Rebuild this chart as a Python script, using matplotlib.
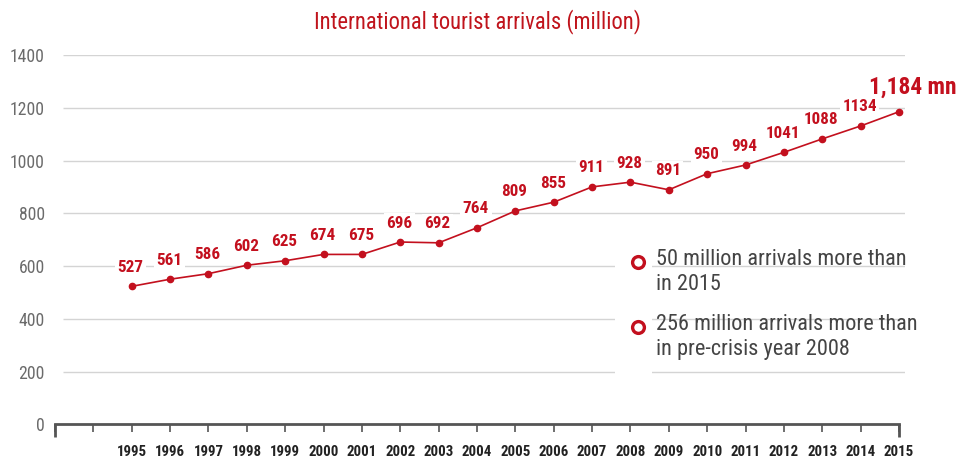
import matplotlib
matplotlib.use('Agg')
import matplotlib.pyplot as plt
from matplotlib import font_manager
from matplotlib.patches import Rectangle

# pick a narrow font if one is installed
installed = {f.name for f in font_manager.fontManager.ttflist}
narrow = 'DejaVu Sans'
for name in ['Liberation Sans Narrow', 'Roboto Condensed', 'Open Sans Condensed', 'Liberation Sans']:
    if name in installed:
        narrow = name
        break
plt.rcParams['font.family'] = [narrow, 'DejaVu Sans']

years = list(range(1995, 2016))
# where the points sit on the line
line_values = [523, 550, 571, 603, 620, 644, 644, 691, 688, 745, 809,
               842, 900, 918, 889, 950, 983, 1031, 1082, 1131, 1185]
# the numbers written above the points
label_values = [527, 561, 586, 602, 625, 674, 675, 696, 692, 764, 809,
                855, 911, 928, 891, 950, 994, 1041, 1088, 1134]
last_label = '1,184 mn'
y_ticks = [0, 200, 400, 600, 800, 1000, 1200, 1400]
notes = ['50 million arrivals more than\nin 2015',
         '256 million arrivals more than\nin pre-crisis year 2008']
note_y = [616, 368]

red = '#c3101e'
title_red = '#c0141c'

fig = plt.figure(figsize=(9.58, 4.57), dpi=100)
ax = fig.add_axes([0.0574, 0.0716, 0.887, 0.808])
ax.set_xlim(1993, 2015.15)
ax.set_ylim(0, 1400)

# grid lines
ax.hlines(y_ticks[1:], 1993.2, 2015.15, color='#d4d4d4', lw=1, zorder=1)
# axis line and end ticks
ax.plot([1993, 2015], [0, 0], color='#555555', lw=2, zorder=3, clip_on=False)
ax.vlines([1993, 2015], -48, 0, color='#555555', lw=2, zorder=3, clip_on=False)

ax.plot(years, line_values, color=red, lw=1.2, marker='o', ms=4.5, zorder=4)

for i in range(len(label_values)):
    ax.annotate(str(label_values[i]), xy=(years[i], line_values[i]),
                xytext=(-1, 19), textcoords='offset pixels',
                ha='center', va='center', color=red, fontsize=12.3,
                fontweight='bold', zorder=5,
                bbox=dict(boxstyle='square,pad=0.15', fc='white', ec='none'))

ax.annotate(last_label, xy=(years[-1], line_values[-1]), xytext=(14, 24),
            textcoords='offset pixels', ha='center', va='center',
            color=red, fontsize=16.8, fontweight='bold', annotation_clip=False)

# notes with open circles
ax.add_patch(Rectangle((2007.6, 168), 0.95, 530, fc='white', ec='none', zorder=2))
for i in range(len(notes)):
    ax.plot([2008.19], [note_y[i]], marker='o', ms=8.5, mfc='white',
            mec=red, mew=2.4, zorder=5)
    ax.text(2008.66, note_y[i] - 38, notes[i], ha='left', va='center',
            fontsize=16, color='#444444', linespacing=1.28, zorder=5)

ax.set_xticks(list(range(1993, 2016)))
ax.set_xticklabels(['', ''] + [str(y) for y in years], fontsize=10.7,
                   fontweight='bold', color='#222222')
ax.set_yticks(y_ticks)
ax.set_yticklabels([str(v) for v in y_ticks], fontsize=12.7, color='#6b6b6b')
ax.tick_params(axis='x', length=5.8, width=1.2, color='#555555', pad=9)
ax.tick_params(axis='y', length=0, pad=7.2)
for s in ax.spines.values():
    s.set_visible(False)

fig.text(0.498, 1 - 22 / 457, 'International tourist arrivals (million)',
         ha='center', va='center', fontsize=16.3, color=title_red)

fig.savefig('out.png', dpi=100)
